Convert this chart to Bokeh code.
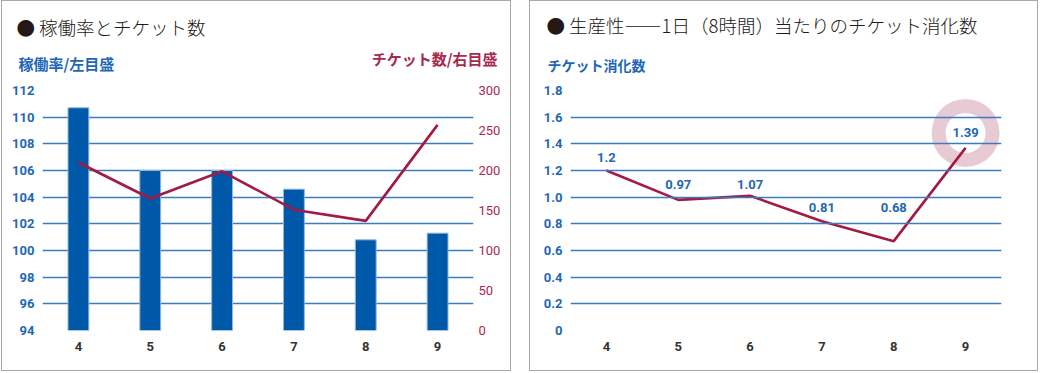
from bokeh.plotting import figure
from bokeh.models import (Range1d, LinearAxis, FixedTicker, LabelSet, Title,
                          ColumnDataSource)
from bokeh.layouts import row
from bokeh.embed import file_html
from bokeh.resources import INLINE
from bokeh.core.properties import value

# ---------------- data ----------------
months = ["4", "5", "6", "7", "8", "9"]

utilization = [110.7, 106.0, 106.0, 104.6, 100.8, 101.3]      # 稼働率 (left scale)
tickets = [210, 165, 199, 151, 137, 257]                      # チケット数 (right scale)
util_ticks = [94, 96, 98, 100, 102, 104, 106, 108, 110, 112]
ticket_ticks = [0, 50, 100, 150, 200, 250, 300]

productivity = [1.2, 0.98, 1.01, 0.82, 0.67, 1.37]            # line as drawn
productivity_labels = ["1.2", "0.97", "1.07", "0.81", "0.68", "1.39"]
prod_ticks = [0, 0.2, 0.4, 0.6, 0.8, 1.0, 1.2, 1.4, 1.6, 1.8]
prod_tick_labels = ["0", "0.2", "0.4", "0.6", "0.8", "1.0", "1.2", "1.4", "1.6", "1.8"]

title_left = "● 稼働率とチケット数"
sub_left_a = "稼働率/左目盛"
sub_left_b = "チケット数/右目盛"
title_right = "● 生産性――1日（8時間）当たりのチケット消化数"
sub_right = "チケット消化数"

# ---------------- styles ----------------
BLUE_TXT = "#1f67b5"
BAR = "#0058a8"
GRID = "#3b7cc1"
CRIMSON = "#a31a43"
CRIMSON_TXT = "#a8284f"
DARK = "#333333"
TITLE_C = "#231815"
RING = "#e8cad4"
JP = "'Noto Sans CJK JP', sans-serif"
JP_LIGHT = "'Noto Sans CJK JP Light', 'Noto Sans CJK JP', sans-serif"
NUM = "Roboto, sans-serif"

H = 369
FRAME_TOP = 89
FRAME_BOTTOM_BORDER = 40


def base_fig(y_range, width, right_border):
    p = figure(x_range=months, y_range=y_range, width=width, height=H,
               output_backend="svg", toolbar_location=None,
               min_border_left=40, min_border_right=right_border,
               min_border_top=FRAME_TOP, min_border_bottom=FRAME_BOTTOM_BORDER)
    p.outline_line_color = None
    p.background_fill_color = "white"
    p.border_fill_color = "white"
    p.styles = {"outline": "1px solid #a9a9a9"}
    p.xgrid.grid_line_color = None
    p.ygrid.grid_line_color = GRID
    p.ygrid.grid_line_width = 1.3
    xa = p.xaxis[0]
    xa.axis_line_color = None
    xa.major_tick_line_color = None
    xa.minor_tick_line_color = None
    xa.major_tick_out = 0
    xa.major_label_standoff = 11
    xa.major_label_text_font = NUM
    xa.major_label_text_font_style = "bold"
    xa.major_label_text_font_size = "13px"
    xa.major_label_text_color = DARK
    ya = p.yaxis[0]
    ya.axis_line_color = None
    ya.major_tick_line_color = None
    ya.minor_tick_line_color = None
    ya.major_tick_out = 0
    ya.major_label_standoff = 8
    ya.major_label_text_font = NUM
    ya.major_label_text_font_style = "bold"
    ya.major_label_text_font_size = "13px"
    ya.major_label_text_color = BLUE_TXT
    return p


def add_title(p, text, offset, size, color, style, standoff, align="left", font=JP):
    p.add_layout(Title(text=text, align=align, offset=offset, standoff=standoff,
                       text_font=font, text_font_size=size, text_color=color,
                       text_font_style=style), "above")


# ---------------- left chart ----------------
p1 = base_fig(Range1d(util_ticks[0], util_ticks[-1]), 508, 37)
p1.margin = (1, 0, 0, 2)
p1.yaxis[0].ticker = FixedTicker(ticks=util_ticks)
p1.extra_y_ranges = {"tickets": Range1d(ticket_ticks[0], ticket_ticks[-1])}
ax2 = LinearAxis(y_range_name="tickets", ticker=FixedTicker(ticks=ticket_ticks))
ax2.axis_line_color = None
ax2.major_tick_line_color = None
ax2.minor_tick_line_color = None
ax2.major_tick_out = 0
ax2.major_label_standoff = 5
ax2.major_label_text_font = NUM
ax2.major_label_text_font_size = "13px"
ax2.major_label_text_color = CRIMSON_TXT
p1.add_layout(ax2, "right")

src1 = ColumnDataSource(dict(month=months, util=utilization, tickets=tickets))
p1.vbar(x="month", top="util", bottom=util_ticks[0], width=0.29, source=src1,
        fill_color=BAR, line_color="#8fb6e0", line_width=1)
p1.line(x="month", y="tickets", y_range_name="tickets", source=src1,
        line_color=CRIMSON, line_width=2.6)

add_title(p1, sub_left_a, -24, "15px", BLUE_TXT, "bold", 33)
add_title(p1, sub_left_b, -24, "15px", CRIMSON_TXT, "bold", -69, align="right")
add_title(p1, title_left, -26, "18.5px", TITLE_C, "normal", -10, font=JP_LIGHT)

# ---------------- right chart ----------------
p2 = base_fig(Range1d(prod_ticks[0], prod_ticks[-1]), 507, 36)
p2.margin = (1, 0, 0, 0)
p2.yaxis[0].ticker = FixedTicker(ticks=prod_ticks)
p2.yaxis[0].major_label_overrides = {t: s for t, s in zip(prod_ticks, prod_tick_labels)}
p2.ygrid.level = "glyph"

label_y = [1.295, 1.096, 1.096, 0.926, 0.926, 1.482]
src2 = ColumnDataSource(dict(month=months, prod=productivity,
                             lab=productivity_labels, ly=label_y))
ring_src = ColumnDataSource(dict(month=months[-1:], ly=label_y[-1:]))
ring = p2.annulus(x="month", y="ly", inner_radius=20, outer_radius=34,
                  inner_radius_units="screen", outer_radius_units="screen",
                  source=ring_src, fill_color=RING, line_color=None)
ring.level = "underlay"
p2.line(x="month", y="prod", source=src2, line_color=CRIMSON, line_width=2.6)
p2.add_layout(LabelSet(x="month", y="ly", text="lab", source=src2,
                       text_font=value(NUM), text_font_style="bold",
                       text_font_size="13px", text_color=BLUE_TXT,
                       text_align="center", text_baseline="middle"))

add_title(p2, sub_right, -23, "14px", BLUE_TXT, "bold", 32)
add_title(p2, title_right, -24, "18.5px", TITLE_C, "normal", -3, font=JP_LIGHT)

layout = row(p1, p2, spacing=20)
open("out.html", "w").write(file_html(layout, INLINE))
